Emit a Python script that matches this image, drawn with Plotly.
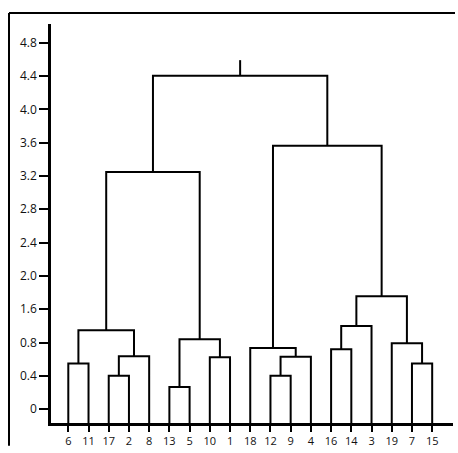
import plotly.graph_objects as go

# Leaf labels and hierarchical merges (left child, right child, merge height).
# Leaves are referred to by their label, merged clusters by "m<index>".
merge_left = ["13", "17", "12", "6", "7", "10", "m1", "m2", "16", "18",
              "19", "m0", "m3", "m8", "m13", "m12", "m9", "m15"]
merge_right = ["5", "2", "9", "11", "15", "1", "8", "4", "14", "m7",
               "m4", "m5", "m6", "3", "m10", "m11", "m14", "m16"]
merge_height = [0.266, 0.40, 0.40, 0.547, 0.547, 0.623, 0.635, 0.63, 0.718, 0.733,
                0.79, 0.84, 0.948, 0.999, 1.356, 2.846, 3.163, 4.003]
root_stub_top = 4.19

# Axis tick positions and their printed labels
y_tick_pos = [0, 0.4, 0.8, 1.2, 1.6, 2.0, 2.4, 2.8, 3.2, 3.6, 4.0, 4.4]
y_tick_text = ["0", "0.4", "0.8", "1.6", "2.0", "2.4", "2.8", "3.2", "3.6", "4.0", "4.4", "4.8"]
y_range = [-0.166, 4.624]
x_range = [-0.856, 19.03]
leaf_base = y_range[0]

n_merges = len(merge_height)
root = "m%d" % (n_merges - 1)

# Leaf order from a left-first traversal of the tree
leaf_order = []


def walk(node):
    if node.startswith("m"):
        k = int(node[1:])
        walk(merge_left[k])
        walk(merge_right[k])
    else:
        leaf_order.append(node)


walk(root)
leaf_x = {lab: i for i, lab in enumerate(leaf_order)}

# Position (x) and height (y) of each node
node_x = dict(leaf_x)
node_y = {lab: leaf_base for lab in leaf_order}
for k in range(n_merges):
    a, b = merge_left[k], merge_right[k]
    node_x["m%d" % k] = (node_x[a] + node_x[b]) / 2
    node_y["m%d" % k] = merge_height[k]

xs, ys = [], []
for k in range(n_merges):
    a, b = merge_left[k], merge_right[k]
    h = merge_height[k]
    xs += [node_x[a], node_x[a], node_x[b], node_x[b], None]
    ys += [node_y[a], h, h, node_y[b], None]
# short stem above the root
xs += [node_x[root], node_x[root], None]
ys += [merge_height[-1], root_stub_top, None]

fig = go.Figure()
fig.add_trace(go.Scatter(x=xs, y=ys, mode="lines",
                         line=dict(color="black", width=2),
                         hoverinfo="skip", showlegend=False))

W, H = 458, 453
ml, mr, mt, mb = 51, 5, 24, 26
pw, ph = W - ml - mr, H - mt - mb


def px_to_paper_x(px):
    return (px - ml) / pw


def px_to_paper_y(py):
    return (H - mb - py) / ph


# outer frame: left and top edges, kept just inside the figure border
fx = px_to_paper_x(9)
fy = px_to_paper_y(13)
frame = dict(color="black", width=2)
fig.add_shape(type="line", xref="paper", yref="paper",
              x0=fx, y0=px_to_paper_y(H - 3), x1=fx, y1=fy, line=frame)
fig.add_shape(type="line", xref="paper", yref="paper",
              x0=fx, y0=fy, x1=px_to_paper_x(W - 3), y1=fy, line=frame)

fig.update_layout(
    width=W, height=H,
    margin=dict(l=ml, r=mr, t=mt, b=mb),
    paper_bgcolor="white", plot_bgcolor="white",
    font=dict(family="Open Sans, sans-serif", color="#111111"),
    xaxis=dict(range=x_range, tickmode="array",
               tickvals=[leaf_x[l] for l in leaf_order], ticktext=leaf_order,
               showgrid=False, zeroline=False,
               showline=True, linecolor="black", linewidth=2.5,
               ticks="outside", ticklen=6, tickwidth=2, tickcolor="black",
               tickfont=dict(size=11)),
    yaxis=dict(range=y_range, tickmode="array",
               tickvals=y_tick_pos, ticktext=y_tick_text,
               showgrid=False, zeroline=False,
               showline=True, linecolor="black", linewidth=2.5,
               ticks="outside", ticklen=9, tickwidth=2, tickcolor="black",
               tickfont=dict(size=12)),
)

fig.write_html("out.html")
